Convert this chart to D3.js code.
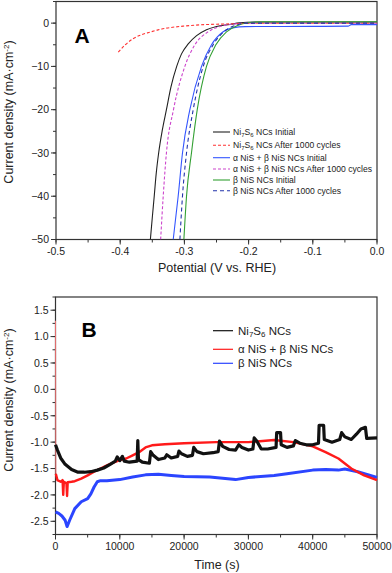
<!DOCTYPE html>
<html>
<head>
<meta charset="utf-8">
<script src="https://cdn.jsdelivr.net/npm/d3@7"></script>
<style>
  body { margin: 0; background: #fff; }
  svg text { font-family: "Liberation Sans", Arial, sans-serif; }
</style>
</head>
<body>
<div id="chart"></div>
<script>
// Canvas size
var svgWidth = 392;
var svgHeight = 573;

// ---- Panel A data: polarization curves, [potential V, current mA/cm2] ----
var ni7s6Initial = [[-0.353,-50],[-0.350,-44.9],[-0.347,-40],[-0.344,-34.9],[-0.340,-29.9],[-0.3345,-24.8],
  [-0.328,-20],[-0.321,-14.8],[-0.312,-10],[-0.3045,-7.1],[-0.294,-4.8],[-0.281,-2.9],[-0.2656,-1.54],
  [-0.250,-0.77],[-0.229,-0.3],[-0.214,0.05],[-0.19,0.25],[0,0.25]];
var ni7s6After = [[-0.403,-6.7],[-0.392,-5.0],[-0.380,-3.6],[-0.367,-2.7],[-0.354,-2.1],[-0.341,-1.55],
  [-0.328,-1.16],[-0.302,-0.7],[-0.276,-0.4],[-0.250,-0.25],[-0.224,-0.15],[-0.172,0],[0,0]];
var abInitial = [[-0.3174,-50],[-0.3097,-40],[-0.303,-30],[-0.2915,-20],[-0.2733,-10],[-0.2578,-5],
  [-0.2396,-2],[-0.225,-1.1],[-0.205,-0.8],[-0.1,-0.75],[-0.045,-0.7],[-0.04,-0.35],[0,-0.35]];
var abAfter = [[-0.337,-50],[-0.333,-40],[-0.328,-30],[-0.317,-20],[-0.2993,-10],[-0.2837,-5],
  [-0.263,-2],[-0.245,-0.8],[-0.224,-0.2],[-0.2,0],[0,0]];
var betaInitial = [[-0.3008,-50],[-0.2967,-40],[-0.289,-30],[-0.280,-20],[-0.2656,-10],[-0.251,-5],
  [-0.2344,-2],[-0.218,-0.6],[-0.2007,0.1],[-0.18,0.3],[0,0.3]];
var betaAfter = [[-0.307,-50],[-0.303,-40],[-0.2967,-30],[-0.2863,-20],[-0.2707,-10],[-0.2552,-5],
  [-0.2386,-2],[-0.222,-0.6],[-0.203,0],[0,0]];

var xTicksA = [-0.5, -0.4, -0.3, -0.2, -0.1, 0.0];
var yTicksA = [0, -10, -20, -30, -40, -50];

// ---- Panel B data: chronoamperometry, [time s, current mA/cm2] ----
var ni7s6Time = [[0,-1.05],[300,-1.15],[800,-1.3],[1500,-1.42],[2500,-1.52],[3500,-1.57],[4500,-1.57],
  [5500,-1.56],[6500,-1.53],[7500,-1.49],[8500,-1.42],[9300,-1.36],[9600,-1.28],[10000,-1.35],
  [10400,-1.27],[10700,-1.36],[11500,-1.38],[12700,-1.36],[12800,-0.97],[12900,-1.33],[13500,-1.38],
  [14600,-1.40],[14800,-1.18],[15200,-1.25],[16000,-1.33],[17000,-1.30],[17300,-1.24],[18000,-1.30],
  [19000,-1.27],[19200,-1.17],[19600,-1.22],[20500,-1.27],[21300,-1.25],[21500,-1.10],[22000,-1.18],
  [23000,-1.22],[24500,-1.2],[25300,-1.18],[25500,-0.98],[26000,-1.08],[27000,-1.14],[28000,-1.15],
  [28500,-1.05],[29000,-1.1],[30000,-1.15],[30700,-1.13],[30900,-0.92],[31300,-0.98],[32000,-1.13],
  [33000,-1.13],[34300,-1.1],[34400,-0.82],[35000,-0.82],[35100,-1.05],[36000,-1.1],[37000,-1.07],
  [37300,-0.97],[38000,-1.02],[39000,-1.05],[40000,-1.05],[40900,-1.02],[41000,-0.68],[41700,-0.68],
  [41800,-0.95],[43000,-1.0],[44200,-0.95],[44500,-0.82],[45000,-0.9],[46000,-0.95],[46800,-0.85],
  [47500,-0.75],[48200,-0.72],[48400,-0.93],[50000,-0.92]];
var abTime = [[0,1.3],[50,-1.6],[300,-1.72],[800,-1.75],[1100,-1.72],[1200,-2.0],[1300,-1.75],
  [1700,-1.78],[1800,-2.02],[1900,-1.76],[2500,-1.75],[3000,-1.74],[4000,-1.69],[5000,-1.63],
  [6000,-1.56],[7000,-1.5],[8000,-1.44],[9000,-1.39],[10000,-1.34],[11000,-1.31],[12000,-1.25],
  [13000,-1.19],[14000,-1.1],[15000,-1.06],[17000,-1.04],[20000,-1.02],[25000,-1.0],[30000,-1.0],
  [34000,-0.96],[37000,-1.0],[40000,-1.08],[42000,-1.19],[44000,-1.31],[46000,-1.5],[48000,-1.63],
  [50000,-1.72]];
var betaTime = [[0,-2.32],[500,-2.35],[1000,-2.4],[1500,-2.48],[1800,-2.6],[2200,-2.48],[3000,-2.26],
  [4000,-2.13],[5000,-2.07],[5500,-1.98],[6000,-1.85],[6500,-1.75],[7000,-1.73],[8000,-1.73],
  [10000,-1.71],[12000,-1.66],[14000,-1.62],[16000,-1.61],[18000,-1.63],[20000,-1.65],[24000,-1.66],
  [28000,-1.71],[30000,-1.67],[34000,-1.63],[36000,-1.6],[40000,-1.53],[42000,-1.52],[44000,-1.53],
  [45000,-1.51],[47000,-1.56],[50000,-1.67]];

var xTicksB = [0, 10000, 20000, 30000, 40000, 50000];
var yTicksB = [1.5, 1.0, 0.5, 0.0, -0.5, -1.0, -1.5, -2.0, -2.5];

var svg = d3.select("#chart")
    .append("svg")
    .attr("width", svgWidth)
    .attr("height", svgHeight);

var frameColor = "#333";

// Draws box, ticks (major + minor) and labels for one panel
function drawFrame(x, y, xMajor, xMinorStep, yMajor, yMinorStep, xFmt, yFmt) {
    var g = svg.append("g");
    var x0 = x.range()[0], x1 = x.range()[1];
    var y0 = y.range()[0], y1 = y.range()[1];

    g.append("rect")
        .attr("x", x0).attr("y", y1)
        .attr("width", x1 - x0).attr("height", y0 - y1)
        .attr("fill", "none")
        .attr("stroke", frameColor)
        .attr("stroke-width", 1.2);

    var xd = x.domain(), yd = y.domain();
    var xMinor = d3.range(xd[0], xd[1] + 1e-9, xMinorStep);
    var yMinor = d3.range(yd[0], yd[1] + 1e-9, yMinorStep);

    g.selectAll(".xminor").data(xMinor).enter().append("line")
        .attr("x1", d => x(d)).attr("x2", d => x(d))
        .attr("y1", y0).attr("y2", y0 + 3)
        .attr("stroke", frameColor);
    g.selectAll(".yminor").data(yMinor).enter().append("line")
        .attr("x1", x0 - 3).attr("x2", x0)
        .attr("y1", d => y(d)).attr("y2", d => y(d))
        .attr("stroke", frameColor);

    g.selectAll(".xmajor").data(xMajor).enter().append("line")
        .attr("x1", d => x(d)).attr("x2", d => x(d))
        .attr("y1", y0).attr("y2", y0 + 5)
        .attr("stroke", frameColor);
    g.selectAll(".ymajor").data(yMajor).enter().append("line")
        .attr("x1", x0 - 5).attr("x2", x0)
        .attr("y1", d => y(d)).attr("y2", d => y(d))
        .attr("stroke", frameColor);

    g.selectAll(".xlab").data(xMajor).enter().append("text")
        .attr("x", d => x(d))
        .attr("y", y0 + 15)
        .attr("text-anchor", "middle")
        .attr("font-size", "10.5px")
        .attr("fill", "#222")
        .text(xFmt);
    g.selectAll(".ylab").data(yMajor).enter().append("text")
        .attr("x", x0 - 7)
        .attr("y", d => y(d) + 3.8)
        .attr("text-anchor", "end")
        .attr("font-size", "10.5px")
        .attr("fill", "#222")
        .text(yFmt);
}

// Y-axis title with superscript
function yTitle(cx, cy) {
    var t = svg.append("text")
        .attr("transform", `translate(${cx}, ${cy}) rotate(-90)`)
        .attr("text-anchor", "middle")
        .attr("font-size", "12.5px")
        .attr("fill", "#222");
    t.append("tspan").text("Current density (mA\u00b7cm");
    t.append("tspan").attr("dy", -4).attr("font-size", "8px").text("-2");
    t.append("tspan").attr("dy", 4).text(")");
}

// Ni7S6 label with subscripts
function niLabel(t, rest, subSize) {
    t.append("tspan").text("Ni");
    t.append("tspan").attr("dy", 2).attr("font-size", subSize).text("7");
    t.append("tspan").attr("dy", -2).text("S");
    t.append("tspan").attr("dy", 2).attr("font-size", subSize).text("6");
    t.append("tspan").attr("dy", -2).text(rest);
}

// ================= Panel A =================
var xA = d3.scaleLinear().domain([-0.5, 0]).range([56, 377]);
var yA = d3.scaleLinear().domain([-50, 5]).range([239.5, 1.5]);

drawFrame(xA, yA, xTicksA, 0.05, yTicksA, 5, d => d.toFixed(1), d => d3.format("d")(d));

var lineA = d3.line()
    .x(d => xA(d[0]))
    .y(d => yA(d[1]))
    .curve(d3.curveMonotoneX);

var seriesA = [
    {data: ni7s6Initial, color: "#222", dash: null, name: " NCs Initial", ni: true},
    {data: ni7s6After, color: "#ff3333", dash: "3,2", name: " NCs After 1000 cycles", ni: true},
    {data: abInitial, color: "#3355ff", dash: null, name: "\u03b1 NiS + \u03b2 NiS NCs Initial"},
    {data: abAfter, color: "#cc44cc", dash: "3,2", name: "\u03b1 NiS + \u03b2 NiS NCs After 1000 cycles"},
    {data: betaInitial, color: "#33a033", dash: null, name: "\u03b2 NiS NCs Initial"},
    {data: betaAfter, color: "#2233aa", dash: "4,3", name: "\u03b2 NiS NCs After 1000 cycles"}
];

var plotA = svg.append("g");
plotA.append("clipPath").attr("id", "clipA")
    .append("rect").attr("x", 56).attr("y", 1.5).attr("width", 321).attr("height", 238);

seriesA.forEach(s => {
    plotA.append("path")
        .datum(s.data)
        .attr("d", lineA)
        .attr("clip-path", "url(#clipA)")
        .attr("fill", "none")
        .attr("stroke", s.color)
        .attr("stroke-width", 1.1)
        .attr("stroke-dasharray", s.dash);
});

// Legend A
var legA = svg.append("g");
seriesA.forEach((s, i) => {
    var ly = [132, 145.3, 157.7, 169, 180, 190.7][i];
    legA.append("line")
        .attr("x1", 213).attr("x2", 230)
        .attr("y1", ly).attr("y2", ly)
        .attr("stroke", s.color)
        .attr("stroke-width", 1.1)
        .attr("stroke-dasharray", s.dash);
    var t = legA.append("text")
        .attr("x", 233).attr("y", ly + 3)
        .attr("font-size", "8.6px")
        .attr("fill", "#222");
    if (s.ni) niLabel(t, s.name, "6px");
    else t.text(s.name);
});

svg.append("text")
    .attr("x", 82).attr("y", 43)
    .attr("text-anchor", "middle")
    .attr("font-size", "21px")
    .attr("font-weight", "bold")
    .text("A");

yTitle(13, 112);
svg.append("text")
    .attr("x", 217).attr("y", 272)
    .attr("text-anchor", "middle")
    .attr("font-size", "12.5px")
    .attr("fill", "#222")
    .text("Potential (V vs. RHE)");

// ================= Panel B =================
var xB = d3.scaleLinear().domain([0, 50000]).range([55.5, 377]);
var yB = d3.scaleLinear().domain([-2.75, 1.75]).range([534.5, 297]);

drawFrame(xB, yB, xTicksB, 5000, yTicksB, 0.25, d => d3.format("d")(d), d => d.toFixed(1));

var lineB = d3.line()
    .x(d => xB(d[0]))
    .y(d => yB(d[1]));

var seriesB = [
    {data: betaTime, color: "#2b45ff", width: 3, name: "\u03b2 NiS NCs"},
    {data: abTime, color: "#ff1a1a", width: 2.4, name: "\u03b1 NiS + \u03b2 NiS NCs"},
    {data: ni7s6Time, color: "#111", width: 3.2, name: " NCs", ni: true}
];

var plotB = svg.append("g");
// the initial current spike at t = 0 is a thin trace along the axis
plotB.append("path")
    .datum(abTime.slice(0, 2))
    .attr("d", lineB)
    .attr("fill", "none")
    .attr("stroke", "#e87070")
    .attr("stroke-width", 1);
seriesB.forEach(s => {
    var pts = s.data === abTime ? s.data.slice(1) : s.data;
    plotB.append("path")
        .datum(pts)
        .attr("d", lineB)
        .attr("fill", "none")
        .attr("stroke", s.color)
        .attr("stroke-width", s.width)
        .attr("stroke-linejoin", "round");
});

// Legend B (black, red, blue from top)
var legB = svg.append("g");
[seriesB[2], seriesB[1], seriesB[0]].forEach((s, i) => {
    var ly = [330.7, 349.3, 363.3][i];
    legB.append("line")
        .attr("x1", 213).attr("x2", 233)
        .attr("y1", ly).attr("y2", ly)
        .attr("stroke", s.color)
        .attr("stroke-width", 1.2);
    var t = legB.append("text")
        .attr("x", 238).attr("y", ly + 4)
        .attr("font-size", "11.5px")
        .attr("fill", "#222");
    if (s.ni) niLabel(t, s.name, "8px");
    else t.text(s.name);
});

svg.append("text")
    .attr("x", 89).attr("y", 337)
    .attr("text-anchor", "middle")
    .attr("font-size", "21px")
    .attr("font-weight", "bold")
    .text("B");

yTitle(13, 400);
svg.append("text")
    .attr("x", 217).attr("y", 569)
    .attr("text-anchor", "middle")
    .attr("font-size", "12.5px")
    .attr("fill", "#222")
    .text("Time (s)");
</script>
</body>
</html>
